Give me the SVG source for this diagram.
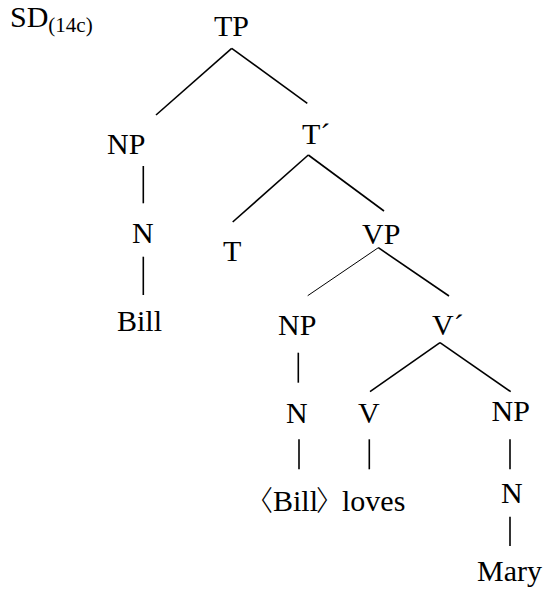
<svg xmlns="http://www.w3.org/2000/svg" width="546" height="590" viewBox="0 0 546 590">
<style>
text{font-family:"Liberation Serif","Times New Roman",serif;font-size:30px;fill:#000}
.sub{font-size:21px}
.br{font-family:"Noto Sans CJK JP","Noto Sans CJK SC",sans-serif;font-size:28px;font-weight:300}
line{stroke:#000;stroke-width:1.6;stroke-linecap:butt}
line.thin{stroke-width:1}
</style>
<rect width="546" height="590" fill="#fff"/>
<g id="label"><text x="10" y="27">SD<tspan class="sub" dy="5">(14c)</tspan></text></g>
<g id="connectors">
<line x1="231.7" y1="48.3" x2="156" y2="115"/>
<line x1="231.7" y1="48.3" x2="307.3" y2="103.3"/>
<line x1="143.3" y1="166" x2="143.3" y2="203.3"/>
<line x1="143.3" y1="256.7" x2="143.3" y2="295"/>
<line x1="308.3" y1="155" x2="232.7" y2="222"/>
<line x1="308.3" y1="155" x2="384" y2="211"/>
<line class="thin" x1="378.3" y1="247.7" x2="307.7" y2="295.7"/>
<line x1="378.3" y1="247.7" x2="449" y2="296"/>
<line x1="298.3" y1="352.7" x2="298.3" y2="382.7"/>
<line x1="440" y1="342.7" x2="370" y2="391.7"/>
<line x1="440" y1="342.7" x2="510.7" y2="391.7"/>
<line x1="299" y1="439.3" x2="299" y2="469.3"/>
<line x1="369.3" y1="439.3" x2="369.3" y2="469.3"/>
<line x1="510" y1="439.3" x2="510" y2="469.3"/>
<line x1="510" y1="516.7" x2="510" y2="546"/>
</g>
<g id="TP"><text x="214" y="36">TP</text></g>
<g id="NP1"><text x="107" y="154">NP</text></g>
<g id="Tbar"><text x="302" y="144">T´</text></g>
<g id="N1"><text x="132" y="243">N</text></g>
<g id="T"><text x="223" y="260.5">T</text></g>
<g id="VP"><text x="362" y="243.5">VP</text></g>
<g id="Bill1"><text x="117" y="331">Bill</text></g>
<g id="NP2"><text x="278" y="335">NP</text></g>
<g id="Vbar"><text x="432" y="335">V´</text></g>
<g id="N2"><text x="286" y="423">N</text></g>
<g id="V"><text x="358" y="423">V</text></g>
<g id="NP3"><text x="491.5" y="421">NP</text></g>
<g id="Bill2"><text y="511"><tspan class="br" x="245">〈</tspan><tspan x="273">Bill</tspan><tspan class="br" x="316">〉</tspan></text></g>
<g id="loves"><text x="342" y="511">loves</text></g>
<g id="N3"><text x="501" y="503">N</text></g>
<g id="Mary"><text x="477" y="581">Mary</text></g>
</svg>
